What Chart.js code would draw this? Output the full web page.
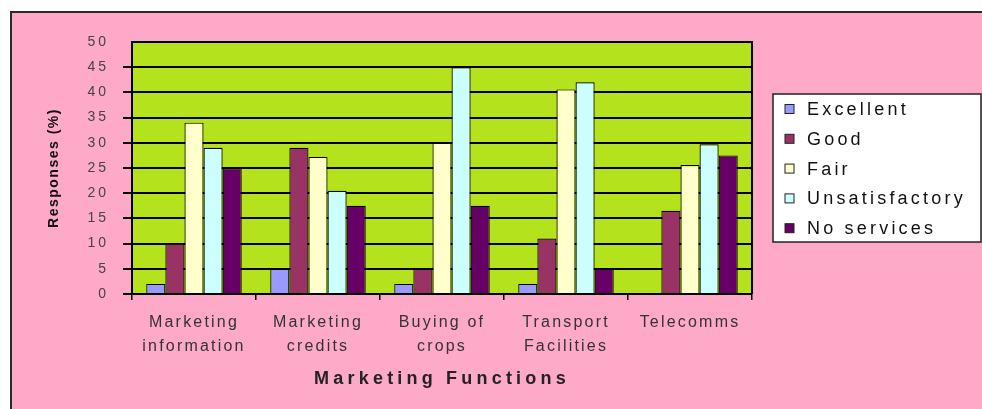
<!DOCTYPE html>
<html><head><meta charset="utf-8">
<script src="https://cdn.jsdelivr.net/npm/chart.js@4/dist/chart.umd.min.js"></script>
<style>html,body{margin:0;padding:0;background:#fff;overflow:hidden}canvas{display:block}</style>
</head><body>
<canvas id="c" width="982" height="409"></canvas>
<script>
// ---- data ----
const categories = [['Marketing','information'],['Marketing','credits'],['Buying of','crops'],['Transport','Facilities'],['Telecomms']];
const seriesNames = ['Excellent','Good','Fair','Unsatisfactory','No services'];
const excellent = [2, 5, 2, 2, 0];
const good = [10, 29, 5, 11, 16.5];
const fair = [34, 27.2, 30, 40.6, 25.6];
const unsatisfactory = [29, 20.5, 45, 42, 29.7];
const noServices = [25, 17.5, 17.5, 5, 27.5];
const yTicks = [0, 5, 10, 15, 20, 25, 30, 35, 40, 45, 50];
const xTitle = 'Marketing Functions';
const yTitle = 'Responses (%)';
// ---- styles ----
const seriesColors = ['#9999FF','#993366','#FFFFCC','#CCFFFF','#660066'];
const FONT = '"Liberation Sans", Arial, sans-serif';
Chart.defaults.font.family = FONT;

const seriesValues = [excellent, good, fair, unsatisfactory, noServices];

function patchScale(scale, labelSp, titleSp){
  if (!scale || scale._lsPatched) return;
  scale._lsPatched = true;
  const dl = scale.drawLabels, dt = scale.drawTitle;
  scale.drawLabels = function(a){ const c=this.ctx; c.save(); c.letterSpacing=labelSp; dl.call(this,a); c.restore(); };
  scale.drawTitle = function(a){ const c=this.ctx; c.save(); c.letterSpacing=titleSp; dt.call(this,a); c.restore(); };
}

const frame = {
  id: 'frame',
  beforeDraw(chart){
    patchScale(chart.scales.x, '2.2px', '4.2px');
    patchScale(chart.scales.y, '3px', '1.5px');
    const {ctx, chartArea: a} = chart;
    ctx.save();
    ctx.fillStyle = '#fff'; ctx.fillRect(0,0,chart.width,chart.height);
    ctx.fillStyle = '#FDA9C7'; ctx.fillRect(11,12,chart.width-11,chart.height-12);
    ctx.strokeStyle = '#2a2a2a'; ctx.lineWidth = 2; ctx.strokeRect(11,12,chart.width+20,chart.height+20);
    ctx.fillStyle = '#B4E21C'; ctx.fillRect(a.left,a.top,a.right-a.left,a.bottom-a.top);
    ctx.restore();
  },
  afterDraw(chart){
    const {ctx, chartArea: a} = chart;
    ctx.save();
    ctx.strokeStyle = '#000'; ctx.lineWidth = 2;
    ctx.beginPath(); ctx.moveTo(a.left, a.top); ctx.lineTo(a.right, a.top); ctx.lineTo(a.right, a.bottom); ctx.stroke();
    // legend
    const lx = 773, ly = 94, lw = 208, lh = 148;
    ctx.fillStyle = '#fff'; ctx.fillRect(lx, ly, lw, lh);
    ctx.strokeStyle = '#222'; ctx.lineWidth = 1.5; ctx.strokeRect(lx, ly, lw, lh);
    ctx.font = '18px ' + FONT;
    ctx.letterSpacing = '3.2px';
    ctx.textBaseline = 'middle'; ctx.textAlign = 'left';
    chart.data.datasets.forEach((ds, i) => {
      const cy = 109 + i * 29.8;
      ctx.fillStyle = ds.backgroundColor;
      ctx.fillRect(785, cy - 4.5, 9, 9);
      ctx.strokeStyle = '#222'; ctx.lineWidth = 1; ctx.strokeRect(785, cy - 4.5, 9, 9);
      ctx.fillStyle = '#111';
      ctx.fillText(ds.label, 807, cy + 1);
    });
    ctx.restore();
  }
};

new Chart(document.getElementById('c'), {
  type: 'bar',
  data: {
    labels: categories,
    datasets: seriesNames.map((n, i) => ({
      label: n,
      data: seriesValues[i],
      backgroundColor: seriesColors[i],
      borderColor: '#000',
      borderWidth: 1.2,
      categoryPercentage: 0.77,
      barPercentage: 1.0
    }))
  },
  options: {
    responsive: false,
    animation: false,
    layout: { padding: { left: 0, right: 230, top: 42, bottom: 0 } },
    plugins: { legend: { display: false }, tooltip: { enabled: false } },
    scales: {
      x: {
        afterFit: s => { s.height = 115; },
        grid: { drawOnChartArea: false, color: '#000', lineWidth: 1.5, tickLength: 6, offset: true },
        border: { display: true, color: '#000', width: 2 },
        ticks: { padding: 11, color: '#333', font: { size: 16, lineHeight: 1.5 }, maxRotation: 0, autoSkip: false },
        title: { display: true, text: xTitle, color: '#222', font: { size: 18, weight: 'bold' }, padding: { top: 0, bottom: 19 } }
      },
      y: {
        min: 0, max: 50,
        afterBuildTicks: s => { s.ticks = yTicks.map(v => ({ value: v })); },
        afterFit: s => { s.width = 132; },
        grid: { color: '#000', lineWidth: 2, tickLength: 9,
                tickColor: c => (c.tick && c.tick.value === 50) ? 'rgba(0,0,0,0)' : '#000' },
        border: { display: true, color: '#000', width: 2 },
        ticks: { padding: 14, color: '#444', font: { size: 14 } },
        title: { display: true, text: yTitle, color: '#111', font: { size: 14, weight: 'bold' }, padding: { top: 45.6, bottom: 0 } }
      }
    }
  },
  plugins: [frame]
});
</script>
</body></html>
